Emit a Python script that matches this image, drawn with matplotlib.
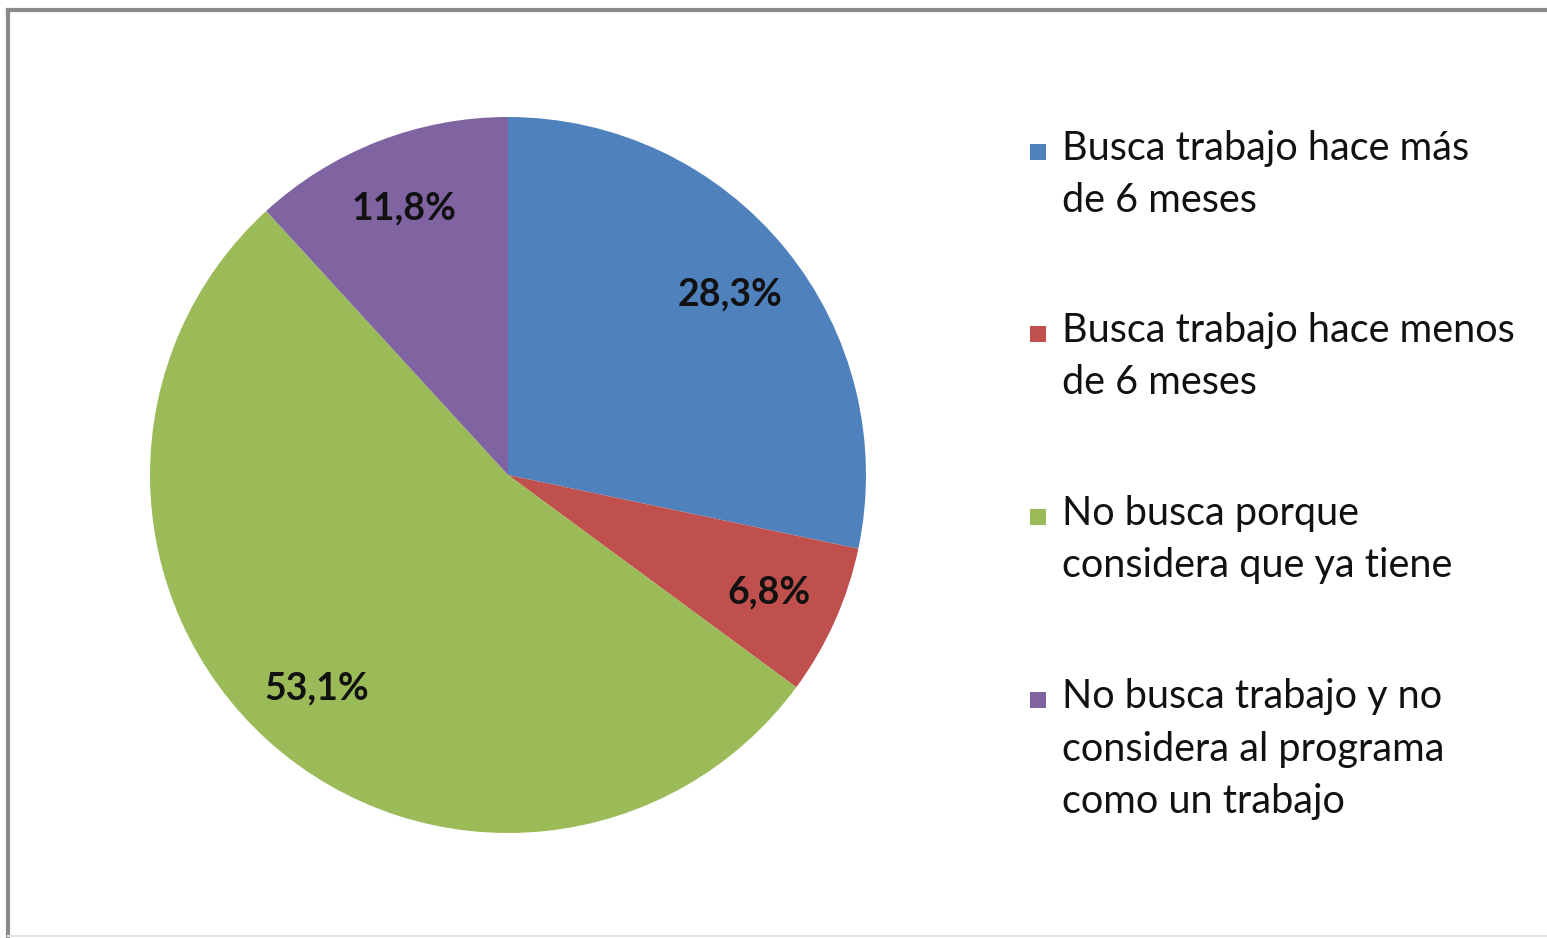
import matplotlib.pyplot as plt
from matplotlib.lines import Line2D
from matplotlib.patches import Rectangle

# data
labels = [
    "Busca trabajo hace más\nde 6 meses",
    "Busca trabajo hace menos\nde 6 meses",
    "No busca porque\nconsidera que ya tiene",
    "No busca trabajo y no\nconsidera al programa\ncomo un trabajo",
]
values = [28.3, 6.8, 53.1, 11.8]
colors = ["#4F81BD", "#C0504D", "#9BBB59", "#8064A2"]

W, H = 1547, 938
fig = plt.figure(figsize=(W / 100, H / 100), dpi=100)
fig.patch.set_facecolor("white")

# pie axes placed in pixel terms: centre (508, 475), radius 358
cx, cy, r = 508, 475, 358
ax = fig.add_axes([(cx - r) / W, (H - cy - r) / H, 2 * r / W, 2 * r / H])
wedges, _, autotexts = ax.pie(
    values,
    colors=colors,
    startangle=90,
    counterclock=False,
    autopct=lambda p: f"{p:.1f}%".replace(".", ","),
    pctdistance=0.8,
    wedgeprops=dict(linewidth=0),
    textprops=dict(fontsize=27, fontweight="bold", family="Lato", color="#111111"),
)
ax.set_xlim(-1, 1)
ax.set_ylim(-1, 1)
ax.set_aspect("equal")

# legend drawn manually: square on the first baseline, one text per line
leg_x_sq = 1030 / W
leg_x_txt = 1062 / W
baselines = [160, 342, 525, 708]
line_step = 52.5
for lab, col, yb in zip(labels, colors, baselines):
    fig.patches.append(Rectangle((leg_x_sq, (H - yb) / H), 16 / W, 16 / H,
                                 transform=fig.transFigure, facecolor=col,
                                 edgecolor="none"))
    for i, line in enumerate(lab.split("\n")):
        fig.text(leg_x_txt, (H - yb - i * line_step) / H, line, fontsize=28.5,
                 family="Lato", color="#111111", va="baseline", ha="left",
                 transform=fig.transFigure)

# frame lines
fig.add_artist(Line2D([8 / W, 1.0], [(H - 10) / H] * 2, color="#8a8a8a", lw=3,
                      transform=fig.transFigure))
fig.add_artist(Line2D([8 / W] * 2, [0, (H - 10) / H], color="#8a8a8a", lw=3,
                      transform=fig.transFigure))
fig.add_artist(Line2D([8 / W, 1.0], [2 / H] * 2, color="#e6e6e6", lw=1.5,
                      transform=fig.transFigure))

fig.savefig("out.png", dpi=100, facecolor="white")
